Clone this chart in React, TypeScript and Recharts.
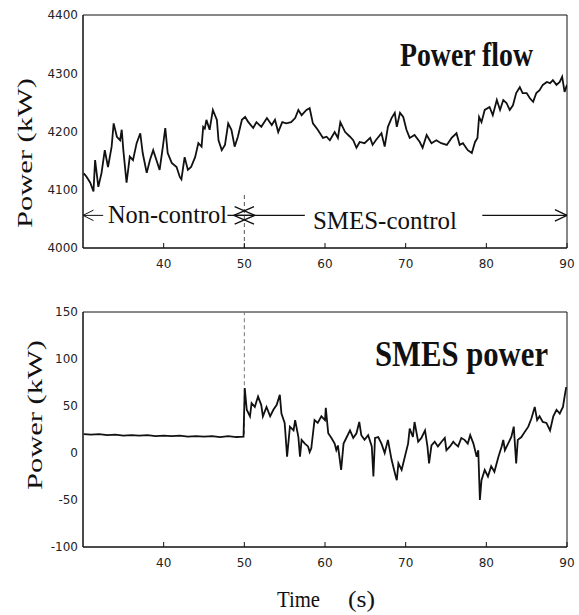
import React from 'react'
import { LineChart, Line, XAxis, YAxis, ReferenceLine, ReferenceArea } from 'recharts'

// top panel: power flow at the line (kW)
const flowTime = [
  30.1, 30.46, 30.9, 31.3, 31.5, 31.9, 32.3, 32.7, 33.1, 33.55, 33.8, 34.2, 34.6, 34.8, 35.0, 35.4, 35.8, 36.2,
  36.65, 37.1, 37.4, 37.9, 38.3, 38.7, 39.1, 39.5, 39.9, 40.2, 40.5, 41.0, 41.6, 42.0, 42.2, 42.6, 43.0, 43.4,
  43.9, 44.3, 44.7, 44.9, 45.1, 45.3, 45.7, 46.1, 46.6, 46.8, 47.2, 47.6, 48.0, 48.4, 48.8, 49.2, 49.7, 50.1,
  50.5, 51.1, 51.5, 52.1, 52.8, 53.4, 53.8, 54.2, 54.7, 55.2, 55.8, 56.3, 56.7, 57.1, 57.7, 58.1, 58.5, 59.1,
  59.75, 60.2, 60.6, 61.2, 61.6, 61.9, 62.5, 63.1, 63.5, 63.9, 64.3, 64.9, 65.6, 65.9, 66.3, 67.0, 67.4, 67.8,
  68.25, 68.65, 68.9, 69.3, 69.7, 70.1, 70.5, 71.1, 71.75, 72.1, 72.6, 73.2, 73.8, 74.4, 75.1, 75.7, 76.3, 76.7,
  77.1, 77.7, 78.2, 78.6, 78.9, 79.1, 79.4, 79.8, 80.4, 80.8, 81.3, 81.7, 82.1, 82.5, 82.9, 83.3, 83.7, 84.15,
  84.5, 85.0, 85.4, 85.8, 86.2, 86.6, 87.0, 87.5, 87.9, 88.25, 88.7, 89.1, 89.4, 89.7, 90.0
]
const flowValue = [
  4128, 4122, 4112, 4097, 4151, 4105, 4129, 4168, 4139, 4174, 4214, 4191, 4185, 4203, 4168, 4112, 4157, 4151,
  4180, 4197, 4163, 4129, 4151, 4168, 4151, 4134, 4174, 4206, 4163, 4146, 4139, 4122, 4118, 4156, 4134, 4139,
  4156, 4180, 4174, 4208, 4205, 4220, 4203, 4237, 4220, 4185, 4168, 4177, 4214, 4203, 4174, 4191, 4220, 4225,
  4216, 4206, 4216, 4208, 4223, 4211, 4220, 4199, 4216, 4214, 4216, 4223, 4237, 4228, 4237, 4240, 4214, 4203,
  4189, 4191, 4185, 4199, 4189, 4216, 4199, 4191, 4185, 4172, 4182, 4180, 4189, 4177, 4185, 4197, 4174, 4208,
  4223, 4232, 4208, 4232, 4225, 4203, 4189, 4194, 4182, 4172, 4194, 4180, 4185, 4180, 4177, 4189, 4197, 4177,
  4180, 4168, 4163, 4182, 4189, 4225, 4216, 4237, 4242, 4228, 4254, 4237, 4254, 4249, 4237, 4245, 4266, 4276,
  4266, 4266, 4257, 4251, 4266, 4271, 4280, 4285, 4283, 4288, 4280, 4285, 4294, 4268, 4280
]

// bottom panel: SMES output power (kW)
const smesTime = [
  30.1, 31, 32, 33, 34, 35, 36, 37, 38, 39, 40, 41, 42, 43, 44, 45, 46, 47, 48, 49, 49.9,
  50.05, 50.3, 50.7, 50.9, 51.3, 51.7, 52.1, 52.3, 52.75, 53.2, 53.6, 54.0, 54.4, 54.6, 55.0, 55.3, 55.65,
  56.1, 56.3, 56.7, 56.9, 57.1, 57.5, 57.9, 58.1, 58.3, 58.7, 59.1, 59.55, 60.0, 60.1, 60.4, 60.8, 61.2,
  61.4, 61.6, 62.0, 62.3, 62.7, 63.1, 63.5, 63.9, 64.25, 64.5, 64.9, 65.35, 65.8, 66.0, 66.2, 66.6, 67.0,
  67.4, 67.8, 68.25, 68.65, 68.9, 69.1, 69.5, 69.9, 70.3, 70.5, 70.9, 71.1, 71.55, 71.95, 72.4, 72.7, 72.9,
  73.2, 73.6, 74.0, 74.45, 74.85, 75.05, 75.5, 75.9, 76.1, 76.5, 76.9, 77.3, 77.7, 78.0, 78.4, 78.8, 79.0,
  79.2, 79.4, 79.8, 80.2, 80.6, 81.0, 81.5, 81.9, 82.1, 82.3, 82.7, 83.1, 83.4, 83.7, 83.9, 84.35, 84.8,
  85.2, 85.6, 86.0, 86.3, 86.6, 87.0, 87.45, 87.9, 88.3, 88.7, 89.1, 89.5, 89.7, 89.9
]
const smesValue = [
  20, 19.5, 20, 19, 19.5, 18.5, 19, 18.5, 19, 18, 18.5, 18, 18.5, 17.5, 18, 17.5, 18, 17, 18, 17, 17.4,
  69, 46, 39, 53, 49, 60, 51, 39, 49, 39, 46, 51, 62, 42, 32, -4, 28,
  24, 35, 17, -4, 14, 10, 7, 1, 5, 35, 32, 39, 35, 48, 21, 16, 10,
  3, 8, -18, 10, 17, 24, 16, 21, 33, 19, 14, 19, 7, -25, 16, 17, 10,
  0, 14, -7, -21, -29, -11, -18, -4, 10, 26, 17, 33, 12, 16, 24, 7, -11,
  8, 12, 7, 12, 16, 3, 7, 12, 10, 7, 16, 14, 10, 19, 10, -4, 3,
  -50, -29, -18, -25, -14, -20, -4, 7, 14, 3, 10, 17, 28, -11, 14, 17, 23,
  28, 37, 49, 35, 39, 33, 32, 24, 39, 46, 42, 49, 60, 70
]

const timeTicks = [40, 50, 60, 70, 80, 90]
const flowTicks = [4000, 4100, 4200, 4300, 4400]
const smesTicks = [-100, -50, 0, 50, 100, 150]

const flowData = flowTime.map((t, i) => ({ t, p: flowValue[i] }))
const smesData = smesTime.map((t, i) => ({ t, p: smesValue[i] }))

const tickStyle = { fontSize: 12, fontFamily: 'DejaVu Sans', fill: '#222' }
const ink = '#111'
const serif = '"Liberation Serif", "DejaVu Serif", serif'
const arrowY = 4056

const App = () => {
  return (
    <div style={{ position: 'absolute', left: 0, top: 0, width: 579, height: 615, background: '#fff' }}>
      <div style={{ position: 'absolute', left: 0, top: 0 }}>
        <LineChart width={579} height={290} data={flowData} margin={{ top: 15, right: 12, left: 23, bottom: 12 }}>
          <XAxis dataKey="t" type="number" domain={[30, 90]} ticks={timeTicks} height={30}
            tick={tickStyle} tickSize={-5} tickMargin={16} stroke={ink} allowDataOverflow />
          <YAxis type="number" domain={[4000, 4400]} ticks={flowTicks} width={60}
            tick={tickStyle} tickLine={false} tickSize={0} tickMargin={5} stroke={ink} allowDataOverflow />
          <ReferenceArea x1={30} x2={90} y1={4000} y2={4400} fill="none" stroke={ink} strokeWidth={1} />
          <ReferenceLine segment={[{ x: 50, y: 4000 }, { x: 50, y: 4095 }]} stroke="#555" strokeDasharray="4 3" />
          {/* Non-control arrow */}
          <ReferenceLine segment={[{ x: 30, y: arrowY }, { x: 32.5, y: arrowY }]} stroke={ink} />
          <ReferenceLine segment={[{ x: 30, y: arrowY }, { x: 31.3, y: arrowY + 9 }]} stroke={ink} />
          <ReferenceLine segment={[{ x: 30, y: arrowY }, { x: 31.3, y: arrowY - 9 }]} stroke={ink} />
          <ReferenceLine segment={[{ x: 47.9, y: arrowY }, { x: 51.3, y: arrowY }]} stroke={ink} strokeWidth={1.3} />
          <ReferenceLine segment={[{ x: 51.3, y: arrowY }, { x: 48.8, y: arrowY + 15 }]} stroke={ink} strokeWidth={1.3} />
          <ReferenceLine segment={[{ x: 51.3, y: arrowY }, { x: 48.8, y: arrowY - 15 }]} stroke={ink} strokeWidth={1.3} />
          {/* SMES-control arrow */}
          <ReferenceLine segment={[{ x: 48.7, y: arrowY }, { x: 57.5, y: arrowY }]} stroke={ink} strokeWidth={1.3} />
          <ReferenceLine segment={[{ x: 48.7, y: arrowY }, { x: 51.2, y: arrowY + 15 }]} stroke={ink} strokeWidth={1.3} />
          <ReferenceLine segment={[{ x: 48.7, y: arrowY }, { x: 51.2, y: arrowY - 15 }]} stroke={ink} strokeWidth={1.3} />
          <ReferenceLine segment={[{ x: 79.5, y: arrowY }, { x: 90, y: arrowY }]} stroke={ink} strokeWidth={1.3} />
          <ReferenceLine segment={[{ x: 90, y: arrowY }, { x: 88.5, y: arrowY + 10 }]} stroke={ink} strokeWidth={1.3} />
          <ReferenceLine segment={[{ x: 90, y: arrowY }, { x: 88.5, y: arrowY - 10 }]} stroke={ink} strokeWidth={1.3} />
          <Line dataKey="p" type="linear" stroke={ink} strokeWidth={1.8} dot={false} isAnimationActive={false} />
        </LineChart>
      </div>
      <div style={{ position: 'absolute', left: 0, top: 290 }}>
        <LineChart width={579} height={325} data={smesData} margin={{ top: 22, right: 12, left: 23, bottom: 38 }}>
          <XAxis dataKey="t" type="number" domain={[30, 90]} ticks={timeTicks} height={30}
            tick={tickStyle} tickSize={-5} tickMargin={16} stroke={ink} allowDataOverflow />
          <YAxis type="number" domain={[-100, 150]} ticks={smesTicks} width={60}
            tick={tickStyle} tickLine={false} tickSize={0} tickMargin={5} stroke={ink} allowDataOverflow />
          <ReferenceArea x1={30} x2={90} y1={-100} y2={150} fill="none" stroke={ink} strokeWidth={1} />
          <ReferenceLine segment={[{ x: 50, y: 20 }, { x: 50, y: 150 }]} stroke="#777" strokeDasharray="4 3" />
          <Line dataKey="p" type="linear" stroke={ink} strokeWidth={1.8} dot={false} isAnimationActive={false} />
        </LineChart>
      </div>
      <svg width={579} height={615} style={{ position: 'absolute', left: 0, top: 0, pointerEvents: 'none' }}>
        <g fontFamily={serif} fill={ink}>
          <text transform="translate(32,153) rotate(-90)" textAnchor="middle" fontSize={22}
            textLength={150} lengthAdjust="spacingAndGlyphs">Power (kW)</text>
          <text transform="translate(42,415) rotate(-90)" textAnchor="middle" fontSize={22}
            textLength={150} lengthAdjust="spacingAndGlyphs">Power (kW)</text>
          <text x={400} y={66} fontSize={34} fontWeight="bold" textLength={133} lengthAdjust="spacingAndGlyphs">Power flow</text>
          <text x={375} y={366} fontSize={35} fontWeight="bold" textLength={173} lengthAdjust="spacingAndGlyphs">SMES power</text>
          <text x={108} y={223} fontSize={25} textLength={119} lengthAdjust="spacingAndGlyphs">Non-control</text>
          <text x={313} y={229} fontSize={25} textLength={144} lengthAdjust="spacingAndGlyphs">SMES-control</text>
          <text x={277} y={607} fontSize={24} textLength={43} lengthAdjust="spacingAndGlyphs">Time</text>
          <text x={348} y={607} fontSize={24} textLength={27} lengthAdjust="spacingAndGlyphs">(s)</text>
        </g>
      </svg>
    </div>
  )
}

export default App
